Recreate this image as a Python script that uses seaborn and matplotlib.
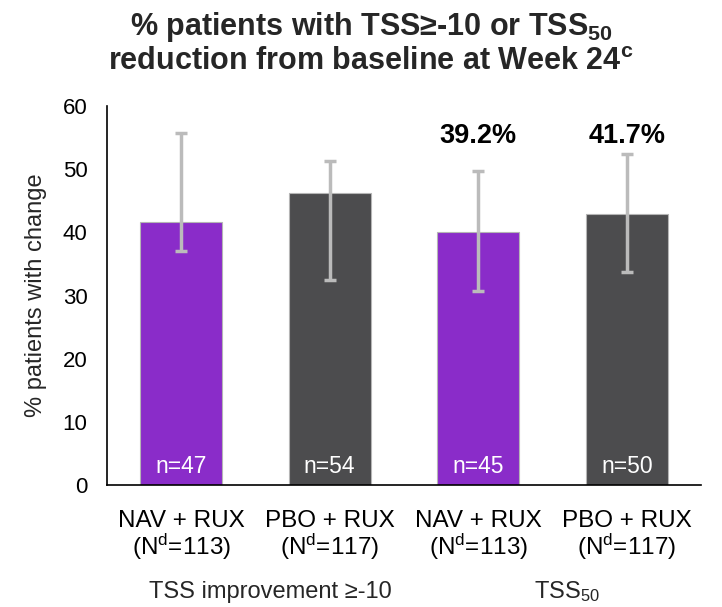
import pandas as pd
import matplotlib
matplotlib.use("Agg")
import matplotlib.pyplot as plt
import matplotlib.transforms as mtransforms
import seaborn as sns

sns.set_style("white")
plt.rcParams['font.family'] = ['Liberation Sans', 'DejaVu Sans']
plt.rcParams['mathtext.fontset'] = 'custom'
plt.rcParams['mathtext.rm'] = 'Liberation Sans'
plt.rcParams['mathtext.it'] = 'Liberation Sans:italic'
plt.rcParams['mathtext.bf'] = 'Liberation Sans:bold'

# data
bar_keys = ["NAV_TSS10", "PBO_TSS10", "NAV_TSS50", "PBO_TSS50"]
arms = ["NAV + RUX", "PBO + RUX", "NAV + RUX", "PBO + RUX"]
big_n = [113, 117, 113, 117]
pct_values = [41.7, 46.2, 40.0, 42.9]
err_low = [37.1, 32.5, 30.8, 33.8]
err_high = [55.8, 51.4, 49.7, 52.4]
n_labels = ["n=47", "n=54", "n=45", "n=50"]
top_labels = [None, None, "39.2%", "41.7%"]
groups = ["TSS improvement \u2265-10", "TSS$_{50}$"]
y_ticks = [0, 10, 20, 30, 40, 50, 60]

PURPLE = "#8A2CC9"
GREY = "#4C4C4E"
ERR = "#BBBBBB"

df = pd.DataFrame({"key": bar_keys, "arm": arms, "pct": pct_values})

fig = plt.figure(figsize=(7.22, 6.07), dpi=100)
ax = fig.add_axes([0.148, 0.201, 0.823, 0.624])

sns.barplot(data=df, x="key", y="pct", hue="arm", order=bar_keys,
            palette={"NAV + RUX": PURPLE, "PBO + RUX": GREY}, saturation=1,
            dodge=False, width=0.55, errorbar=None, legend=False, ax=ax,
            edgecolor="#B5B5B5", linewidth=0.8)

xs = list(range(len(bar_keys)))
lower = [v - lo for v, lo in zip(pct_values, err_low)]
upper = [hi - v for v, hi in zip(pct_values, err_high)]
ax.errorbar(xs, pct_values, yerr=[lower, upper], fmt="none", ecolor=ERR,
            elinewidth=2.5, capsize=4.5, capthick=2.5, zorder=5)

for x, lab in zip(xs, n_labels):
    ax.text(x, 3.0, lab, ha="center", va="center", color="white", fontsize=16.5)

for x, lab in zip(xs, top_labels):
    if lab:
        ax.text(x, 55.3, lab, ha="center", va="center", color="black",
                fontsize=19.5, fontweight="bold")

ax.set_xlim(-0.5, 3.5)
ax.set_ylim(0, 60)
ax.set_yticks(y_ticks)
ax.set_yticklabels([str(t) for t in y_ticks], fontsize=16)
ax.set_xticks(xs)
ax.set_xticklabels([f"{a}\n(N$^{{\\mathregular{{d}}}}$={n})" for a, n in zip(arms, big_n)],
                   fontsize=17.5, linespacing=1.0)
ax.tick_params(axis="both", length=0, colors="black")
ax.tick_params(axis="x", pad=18)
ax.tick_params(axis="y", pad=14)
ax.set_xlabel("")
ax.set_ylabel("% patients with change", fontsize=17, labelpad=11)

for s in ["top", "right"]:
    ax.spines[s].set_visible(False)
for s in ["left", "bottom"]:
    ax.spines[s].set_color("black")
    ax.spines[s].set_linewidth(1.2)

trans = mtransforms.blended_transform_factory(ax.transData, ax.transAxes)
for i, g in enumerate(groups):
    ax.text(2 * i + 0.5 + 0.1, -0.282, g, transform=trans, ha="center",
            va="center", fontsize=17)

fig.text(0.514, 0.955, "% patients with TSS\u2265-10 or TSS$_{\\mathbf{50}}$",
         ha="center", va="center", fontsize=22, fontweight="bold")
fig.text(0.514, 0.898, "reduction from baseline at Week 24$^{\\mathbf{c}}$",
         ha="center", va="center", fontsize=22, fontweight="bold")

fig.savefig("out.png", dpi=100)
